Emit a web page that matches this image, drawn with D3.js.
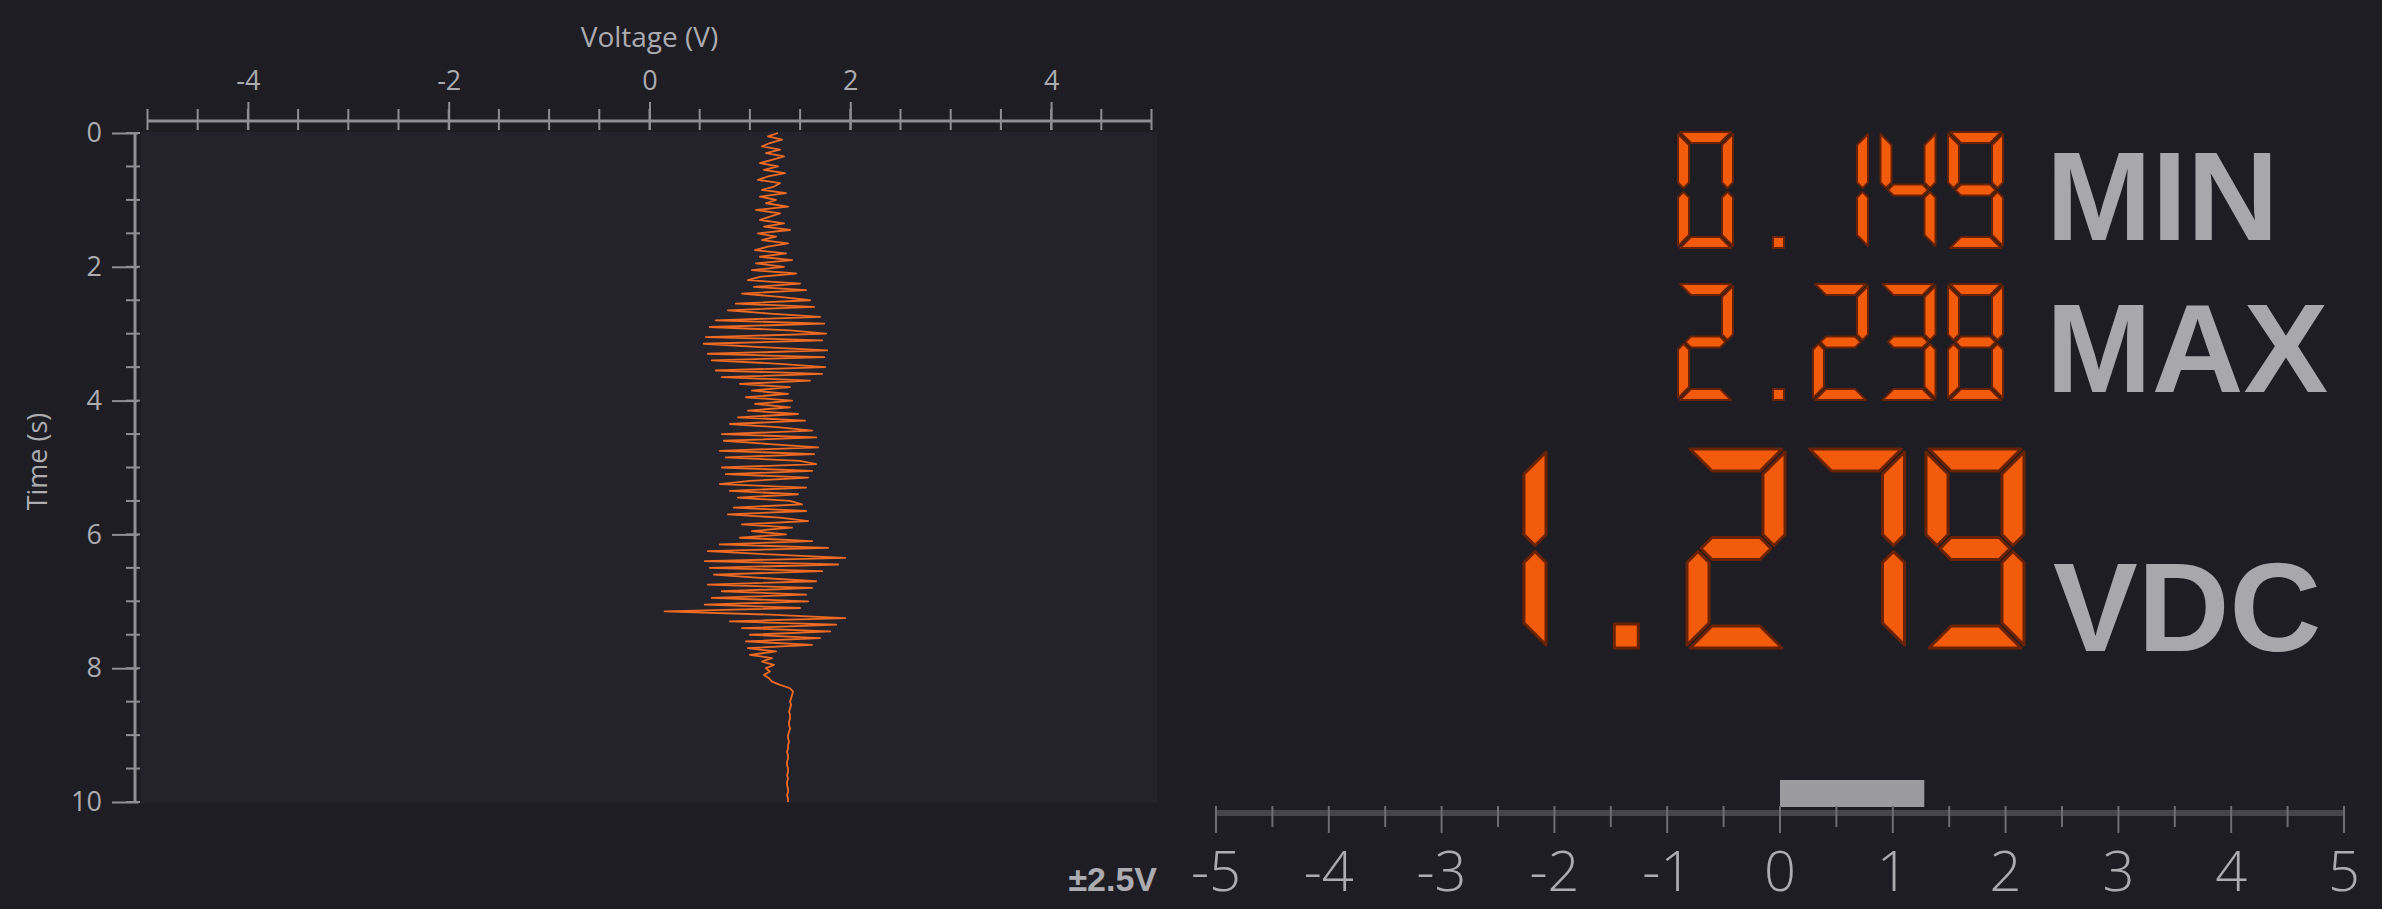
<!DOCTYPE html>
<html>
<head>
<meta charset="utf-8">
<script src="https://cdn.jsdelivr.net/npm/d3@7"></script>
<style>
  html, body { margin: 0; padding: 0; background: #1d1d23; overflow: hidden; }
  svg { display: block; }
</style>
</head>
<body>
<svg id="chart" width="2382" height="909"></svg>
<script>
// ---------------- DATA ----------------
const sampleTimes = [
  0.00, 0.05, 0.10, 0.15, 0.20, 0.25, 0.30, 0.35, 0.40, 0.45, 0.50, 0.55, 0.60, 0.65, 0.70, 0.75, 0.80, 0.85, 0.90, 0.95,
  1.00, 1.05, 1.10, 1.15, 1.20, 1.25, 1.30, 1.35, 1.40, 1.45, 1.50, 1.55, 1.60, 1.65, 1.70, 1.75, 1.80, 1.85, 1.90, 1.95,
  2.00, 2.05, 2.10, 2.15, 2.20, 2.25, 2.30, 2.35, 2.40, 2.45, 2.50, 2.55, 2.60, 2.65, 2.70, 2.75, 2.80, 2.85, 2.90, 2.95,
  3.00, 3.05, 3.10, 3.15, 3.20, 3.25, 3.30, 3.35, 3.40, 3.45, 3.50, 3.55, 3.60, 3.65, 3.70, 3.75, 3.80, 3.85, 3.90, 3.95,
  4.00, 4.05, 4.10, 4.15, 4.20, 4.25, 4.30, 4.35, 4.40, 4.45, 4.50, 4.55, 4.60, 4.65, 4.70, 4.75, 4.80, 4.85, 4.90, 4.95,
  5.00, 5.05, 5.10, 5.15, 5.20, 5.25, 5.30, 5.35, 5.40, 5.45, 5.50, 5.55, 5.60, 5.65, 5.70, 5.75, 5.80, 5.85, 5.90, 5.95,
  6.00, 6.05, 6.10, 6.15, 6.20, 6.25, 6.30, 6.35, 6.40, 6.45, 6.50, 6.55, 6.60, 6.65, 6.70, 6.75, 6.80, 6.85, 6.90, 6.95,
  7.00, 7.05, 7.10, 7.15, 7.20, 7.25, 7.30, 7.35, 7.40, 7.45, 7.50, 7.55, 7.60, 7.65, 7.70, 7.75, 7.80, 7.85, 7.90, 7.95,
  8.00, 8.05, 8.10, 8.15, 8.20, 8.25, 8.30, 8.35, 8.40, 8.45, 8.50, 8.55, 8.60, 8.65, 8.70, 8.75, 8.80, 8.85, 8.90, 8.95,
  9.00, 9.05, 9.10, 9.15, 9.20, 9.25, 9.30, 9.35, 9.40, 9.45, 9.50, 9.55, 9.60, 9.65, 9.70, 9.75, 9.80, 9.85, 9.90, 9.95,
  10.00
];
const voltageValues = [
  // 0.00 - 1.95
  1.28, 1.18, 1.32, 1.20, 1.12, 1.30, 1.16, 1.34, 1.22, 1.10, 1.28, 1.14, 1.35, 1.18, 1.08, 1.30, 1.24, 1.12, 1.36, 1.10,
  1.26, 1.16, 1.38, 1.06, 1.30, 1.20, 1.10, 1.34, 1.14, 1.40, 1.08, 1.26, 1.12, 1.38, 1.18, 1.05, 1.36, 1.10, 1.42, 1.06,
  // 2.00 - 2.95
  1.34, 1.02, 1.46, 1.10, 0.98, 1.50, 1.04, 1.56, 0.92, 1.30, 1.60, 0.86, 1.64, 0.78, 1.20, 1.70, 0.66, 1.74, 0.60, 1.40,
  // 3.00 - 3.95
  1.76, 0.56, 1.72, 0.54, 1.10, 1.77, 0.58, 1.74, 0.62, 1.30, 1.75, 0.66, 1.72, 0.72, 1.60, 0.90, 1.40, 1.02, 1.38, 0.96,
  // 4.00 - 4.95
  1.42, 1.05, 1.40, 0.98, 1.48, 0.88, 1.55, 0.80, 1.30, 1.62, 0.72, 1.66, 0.74, 1.20, 1.68, 0.70, 1.64, 0.76, 1.50, 1.66,
  // 5.00 - 5.95
  0.72, 1.62, 0.76, 1.58, 1.00, 0.70, 1.56, 0.80, 1.48, 0.88, 1.40, 1.52, 0.84, 1.56, 0.78, 1.30, 1.58, 0.92, 1.42, 1.02,
  // 6.00 - 6.95
  1.36, 0.90, 1.62, 0.70, 1.78, 0.58, 1.20, 1.95, 0.55, 1.88, 0.60, 1.72, 0.64, 1.10, 1.66, 0.58, 1.62, 0.72, 1.56, 0.62,
  // 7.00 - 7.95
  1.58, 0.55, 1.50, 0.15, 1.20, 1.95, 0.80, 1.86, 0.92, 1.80, 1.00, 1.70, 0.96, 1.62, 0.98, 1.26, 1.00, 1.22, 1.12, 1.24,
  // 8.00 - 8.95
  1.16, 1.20, 1.14, 1.19, 1.22, 1.30, 1.40, 1.43, 1.42, 1.41, 1.40, 1.41, 1.40, 1.39, 1.40, 1.40, 1.39, 1.39, 1.40, 1.39,
  // 9.00 - 9.95
  1.38, 1.38, 1.39, 1.38, 1.38, 1.37, 1.38, 1.38, 1.37, 1.37, 1.38, 1.38, 1.37, 1.38, 1.37, 1.37, 1.38, 1.38, 1.37, 1.38,
  // 10.00
  1.38
];
const xMajorTicks = [-4, -2, 0, 2, 4];
const xMinorTicks = [-5, -4.5, -4, -3.5, -3, -2.5, -2, -1.5, -1, -0.5, 0, 0.5, 1, 1.5, 2, 2.5, 3, 3.5, 4, 4.5, 5];
const yMajorTicks = [0, 2, 4, 6, 8, 10];
const yMinorTicks = [0, 0.5, 1, 1.5, 2, 2.5, 3, 3.5, 4, 4.5, 5, 5.5, 6, 6.5, 7, 7.5, 8, 8.5, 9, 9.5, 10];
const gaugeLabels = [-5, -4, -3, -2, -1, 0, 1, 2, 3, 4, 5];
const gaugeMinorTicks = [-5, -4.5, -4, -3.5, -3, -2.5, -2, -1.5, -1, -0.5, 0, 0.5, 1, 1.5, 2, 2.5, 3, 3.5, 4, 4.5, 5];
const minReading = "0.149";
const maxReading = "2.238";
const liveReading = "1.279";
const gaugeValue = 1.279;
const xAxisTitle = "Voltage (V)";
const yAxisTitle = "Time (s)";
const rangeLabel = "\u00b12.5V";

// ---------------- SETUP ----------------
const svg = d3.select("#chart");
const AXIS_COLOR = "#8e8e94";
const TEXT_COLOR = "#acacb0";
const ORANGE = "#f25a0c";

const x = d3.scaleLinear().domain([-5, 5]).range([147.5, 1151.5]);
const y = d3.scaleLinear().domain([0, 10]).range([133, 802]);

// plot background
svg.append("rect")
  .attr("x", 141).attr("y", y(0) - 1)
  .attr("width", 1016).attr("height", y(10) - y(0) + 2)
  .attr("fill", "#24232c");

// ---------- X axis (top) ----------
const xAxisY = 121;
const gx = svg.append("g").attr("transform", `translate(0,${xAxisY})`);
gx.append("line")
  .attr("x1", x(-5)).attr("x2", x(5))
  .attr("stroke", AXIS_COLOR).attr("stroke-width", 3);
gx.selectAll("line.minor").data(xMinorTicks).join("line")
  .attr("class", "minor")
  .attr("x1", d => x(d)).attr("x2", d => x(d))
  .attr("y1", -12).attr("y2", 9)
  .attr("stroke", AXIS_COLOR).attr("stroke-width", 2);
const xAxis = d3.axisTop(x).tickValues(xMajorTicks).tickSize(19).tickPadding(12)
  .tickFormat(d => String(d));
gx.call(xAxis);
gx.select(".domain").remove();
gx.selectAll(".tick line").attr("y1", 9).attr("stroke", AXIS_COLOR).attr("stroke-width", 2);
gx.selectAll(".tick text")
  .attr("fill", TEXT_COLOR).attr("font-size", 27)
  .attr("font-family", "'Open Sans', sans-serif");

svg.append("text")
  .attr("x", x(0)).attr("y", 47)
  .attr("text-anchor", "middle")
  .attr("fill", TEXT_COLOR).attr("font-size", 28)
  .attr("font-family", "'Open Sans', sans-serif")
  .text(xAxisTitle);

// ---------- Y axis (left) ----------
const yAxisX = 135;
const gy = svg.append("g").attr("transform", `translate(${yAxisX},0)`);
gy.append("line")
  .attr("y1", y(0)).attr("y2", y(10))
  .attr("stroke", AXIS_COLOR).attr("stroke-width", 3);
gy.selectAll("line.minor").data(yMinorTicks).join("line")
  .attr("class", "minor")
  .attr("y1", d => y(d)).attr("y2", d => y(d))
  .attr("x1", -9).attr("x2", 5)
  .attr("stroke", AXIS_COLOR).attr("stroke-width", 2);
const yAxis = d3.axisLeft(y).tickValues(yMajorTicks).tickSize(23).tickPadding(10)
  .tickFormat(d => String(d));
gy.call(yAxis);
gy.select(".domain").remove();
gy.selectAll(".tick line").attr("x1", 3).attr("stroke", AXIS_COLOR).attr("stroke-width", 2);
gy.selectAll(".tick text")
  .attr("fill", TEXT_COLOR).attr("font-size", 27)
  .attr("font-family", "'Open Sans', sans-serif");

svg.append("text")
  .attr("transform", `translate(47,${(y(0) + y(10)) / 2 - 6}) rotate(-90)`)
  .attr("text-anchor", "middle")
  .attr("fill", TEXT_COLOR).attr("font-size", 27)
  .attr("font-family", "'Open Sans', sans-serif")
  .text(yAxisTitle);

// ---------- waveform ----------
const wave = sampleTimes.map((t, i) => ({ t: t, v: voltageValues[i] }));
svg.append("path")
  .datum(wave)
  .attr("fill", "none")
  .attr("stroke", "#ef6a22")
  .attr("stroke-width", 1.8)
  .attr("stroke-linejoin", "round")
  .attr("d", d3.line().x(d => x(d.v)).y(d => y(d.t)));

// ---------- seven segment displays ----------
const DIGIT_SEGMENTS = {
  "0": "abcdef", "1": "bc", "2": "abged", "3": "abgcd", "4": "fgbc",
  "5": "afgcd", "6": "afgedc", "7": "abc", "8": "abcdefg", "9": "abcdfg"
};
function segmentPolygons(x0, y0, w, h, t, g) {
  const ht = t / 2, ym = y0 + h / 2;
  return {
    a: [[x0 + g, y0], [x0 + w - g, y0], [x0 + w - t - g, y0 + t], [x0 + t + g, y0 + t]],
    d: [[x0 + t + g, y0 + h - t], [x0 + w - t - g, y0 + h - t], [x0 + w - g, y0 + h], [x0 + g, y0 + h]],
    g: [[x0 + ht + g, ym], [x0 + t + g, ym - ht], [x0 + w - t - g, ym - ht], [x0 + w - ht - g, ym],
        [x0 + w - t - g, ym + ht], [x0 + t + g, ym + ht]],
    f: [[x0, y0 + g], [x0 + t, y0 + t + g], [x0 + t, ym - ht - g], [x0 + ht, ym - g], [x0, ym - ht - g]],
    b: [[x0 + w, y0 + g], [x0 + w, ym - ht - g], [x0 + w - ht, ym - g], [x0 + w - t, ym - ht - g], [x0 + w - t, y0 + t + g]],
    e: [[x0, ym + ht + g], [x0 + ht, ym + g], [x0 + t, ym + ht + g], [x0 + t, y0 + h - t - g], [x0, y0 + h - g]],
    c: [[x0 + w, ym + ht + g], [x0 + w, y0 + h - g], [x0 + w - t, y0 + h - t - g], [x0 + w - t, ym + ht + g], [x0 + w - ht, ym + g]]
  };
}
function drawSevenSeg(str, cfg) {
  const g = svg.append("g").attr("aria-label", str);
  const polys = [];
  const dots = [];
  [...str].forEach((ch, i) => {
    const cx = cfg.x + i * cfg.pitch;
    if (ch === ".") {
      dots.push({ x: cx + cfg.w * 0.6 - cfg.dot / 2, y: cfg.y + cfg.h - cfg.dot });
    } else {
      const segs = segmentPolygons(cx, cfg.y, cfg.w, cfg.h, cfg.t, cfg.gap);
      for (const s of DIGIT_SEGMENTS[ch]) polys.push(segs[s]);
    }
  });
  g.selectAll("polygon").data(polys).join("polygon")
    .attr("points", d => d.map(p => p.join(",")).join(" "))
    .attr("fill", ORANGE)
    .attr("stroke", "#6a2206")
    .attr("stroke-width", cfg.stroke)
    .attr("stroke-linejoin", "round");
  g.selectAll("rect").data(dots).join("rect")
    .attr("x", d => d.x).attr("y", d => d.y)
    .attr("width", cfg.dot).attr("height", cfg.dot)
    .attr("fill", ORANGE).attr("stroke", "#6a2206").attr("stroke-width", cfg.stroke);
  // the reading as real text, laid over the segment drawing
  g.append("text")
    .attr("x", cfg.x + (str.length * cfg.pitch - (cfg.pitch - cfg.w)))
    .attr("y", cfg.y + cfg.h)
    .attr("text-anchor", "end")
    .attr("font-size", cfg.h)
    .attr("font-family", "'Liberation Sans', sans-serif")
    .attr("fill", ORANGE).attr("fill-opacity", 0)
    .text(str);
}

const smallCfg = { w: 55, h: 116, pitch: 67.5, t: 11, gap: 2, dot: 11, stroke: 2 };
drawSevenSeg(minReading, Object.assign({ x: 1678, y: 132 }, smallCfg));
drawSevenSeg(maxReading, Object.assign({ x: 1678, y: 284 }, smallCfg));
drawSevenSeg(liveReading, { x: 1448, y: 449, w: 98, h: 199, pitch: 119.5, t: 22, gap: 3, dot: 24, stroke: 3 });

const labelFont = "'Liberation Sans', Arial, sans-serif";
[[ "MIN", 2046, 240, 127 ], [ "MAX", 2046, 392, 127 ], [ "VDC", 2053, 651, 127 ]].forEach(([txt, lx, by, fs]) => {
  svg.append("text")
    .attr("x", lx).attr("y", by)
    .attr("fill", "#a8a7ac")
    .attr("font-size", fs).attr("font-weight", "bold")
    .attr("font-family", labelFont)
    .text(txt);
});

// ---------- gauge ----------
const gxScale = d3.scaleLinear().domain([-5, 5]).range([1216, 2344]);
const gaugeY = 813;
svg.append("rect")
  .attr("x", gxScale(Math.min(0, gaugeValue)))
  .attr("y", 780)
  .attr("width", Math.abs(gxScale(gaugeValue) - gxScale(0)))
  .attr("height", 27)
  .attr("fill", "#9b9a9f");
svg.append("line")
  .attr("x1", gxScale(-5)).attr("x2", gxScale(5))
  .attr("y1", gaugeY).attr("y2", gaugeY)
  .attr("stroke", "#46454d").attr("stroke-width", 6);
svg.selectAll("line.gminor").data(gaugeMinorTicks).join("line")
  .attr("class", "gminor")
  .attr("x1", d => gxScale(d)).attr("x2", d => gxScale(d))
  .attr("y1", gaugeY - 7)
  .attr("y2", d => Number.isInteger(d) ? gaugeY + 20 : gaugeY + 14)
  .attr("stroke", "#6e6d74").attr("stroke-width", 2);
svg.selectAll("text.glabel").data(gaugeLabels).join("text")
  .attr("class", "glabel")
  .attr("x", d => gxScale(d)).attr("y", 891)
  .attr("text-anchor", "middle")
  .attr("fill", TEXT_COLOR)
  .attr("font-size", 56).attr("font-weight", 300)
  .attr("font-family", "'Open Sans', sans-serif")
  .text(d => String(d));
svg.append("text")
  .attr("x", 1157).attr("y", 891)
  .attr("text-anchor", "end")
  .attr("fill", TEXT_COLOR)
  .attr("font-size", 34).attr("font-weight", "bold")
  .attr("font-family", labelFont)
  .text(rangeLabel);
</script>
</body>
</html>
